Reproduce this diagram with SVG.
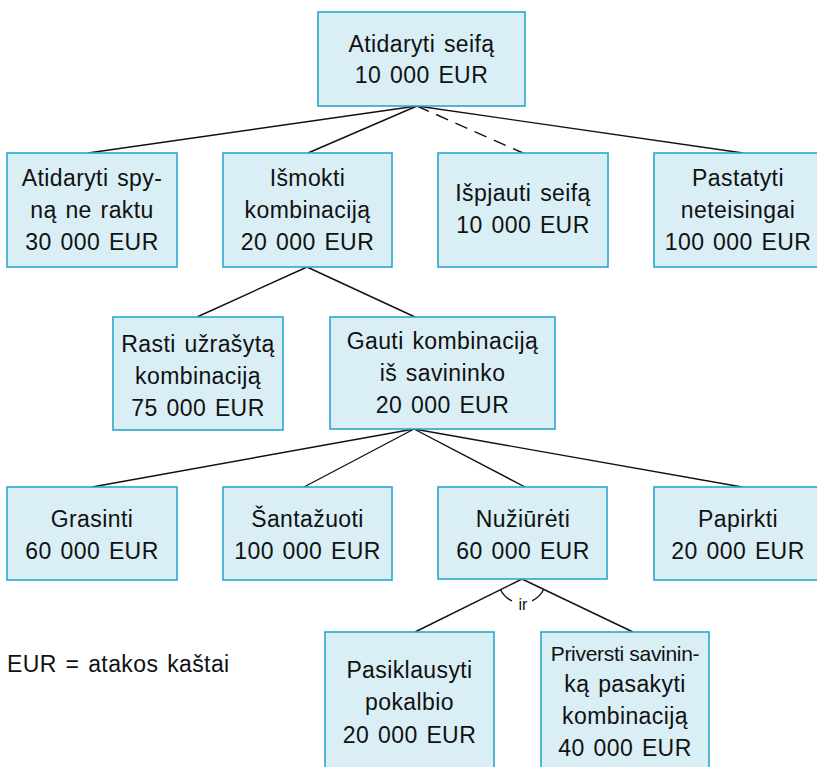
<svg xmlns="http://www.w3.org/2000/svg" width="817" height="767" viewBox="0 0 817 767">
  <style>
    .box { fill: #d9eef5; stroke: #2aa8d0; stroke-width: 1.6; }
    .lbl { font-family: "Liberation Sans", Arial, sans-serif; font-size: 23px; letter-spacing: 0.4px; word-spacing: 2px; fill: #111; text-anchor: middle; }
    .small { font-size: 21px; letter-spacing: -0.3px; word-spacing: 0; }
    .edge { stroke: #111; stroke-width: 1.4; fill: none; }
    .dash { stroke-dasharray: 13 8; }
    .legend { font-family: "Liberation Sans", Arial, sans-serif; font-size: 23px; letter-spacing: 0.4px; word-spacing: 2px; fill: #111; }
    .ir { font-family: "Liberation Sans", Arial, sans-serif; font-size: 16px; fill: #111; text-anchor: middle; }
  </style>
  <rect width="817" height="767" fill="#ffffff"/>

  <!-- connectors -->
  <g id="connectors">
    <line class="edge" x1="417" y1="106" x2="88" y2="153"/>
    <line class="edge" x1="417" y1="106" x2="308" y2="153"/>
    <line class="edge dash" x1="417" y1="106" x2="523" y2="153"/>
    <line class="edge" x1="417" y1="106" x2="743" y2="153"/>

    <line class="edge" x1="307" y1="267" x2="197" y2="317"/>
    <line class="edge" x1="307" y1="267" x2="415" y2="317"/>

    <line class="edge" x1="414" y1="429" x2="92" y2="487"/>
    <line class="edge" x1="414" y1="429" x2="304" y2="487"/>
    <line class="edge" x1="414" y1="429" x2="525" y2="487"/>
    <line class="edge" x1="414" y1="429" x2="742" y2="487"/>

    <line class="edge" x1="522" y1="579" x2="415" y2="632"/>
    <line class="edge" x1="522" y1="579" x2="633" y2="632"/>
    <!-- AND arc with a gap for its label -->
    <path class="edge" d="M 500.4 589.5 A 24 24 0 0 0 511.9 600.8"/>
    <path class="edge" d="M 532.1 600.8 A 24 24 0 0 0 543.7 589.3"/>
    <text class="ir" x="523" y="610">ir</text>
  </g>

  <g id="n-root">
    <rect class="box" x="318" y="12" width="207" height="94"/>
    <text class="lbl" x="421.5" y="52">Atidaryti seifą</text>
    <text class="lbl" x="421.5" y="83">10 000 EUR</text>
  </g>

  <g id="n-spyna">
    <rect class="box" x="7" y="153" width="170" height="114"/>
    <text class="lbl" x="92" y="186">Atidaryti spy-</text>
    <text class="lbl" x="92" y="218">ną ne raktu</text>
    <text class="lbl" x="92" y="250">30 000 EUR</text>
  </g>

  <g id="n-ismokti">
    <rect class="box" x="223" y="153" width="169" height="114"/>
    <text class="lbl" x="307.5" y="186">Išmokti</text>
    <text class="lbl" x="307.5" y="218">kombinaciją</text>
    <text class="lbl" x="307.5" y="250">20 000 EUR</text>
  </g>

  <g id="n-ispjauti">
    <rect class="box" x="438" y="153" width="170" height="114"/>
    <text class="lbl" x="523" y="201">Išpjauti seifą</text>
    <text class="lbl" x="523" y="233">10 000 EUR</text>
  </g>

  <g id="n-pastatyti">
    <rect class="box" x="654" y="153" width="168" height="114"/>
    <text class="lbl" x="738" y="186">Pastatyti</text>
    <text class="lbl" x="738" y="218">neteisingai</text>
    <text class="lbl" x="738" y="250">100 000 EUR</text>
  </g>

  <g id="n-rasti">
    <rect class="box" x="113" y="317" width="170" height="113"/>
    <text class="lbl" x="198" y="352">Rasti užrašytą</text>
    <text class="lbl" x="198" y="384">kombinaciją</text>
    <text class="lbl" x="198" y="416">75 000 EUR</text>
  </g>

  <g id="n-gauti">
    <rect class="box" x="330" y="317" width="225" height="112"/>
    <text class="lbl" x="442.5" y="349">Gauti kombinaciją</text>
    <text class="lbl" x="442.5" y="381">iš savininko</text>
    <text class="lbl" x="442.5" y="413">20 000 EUR</text>
  </g>

  <g id="n-grasinti">
    <rect class="box" x="7" y="487" width="170" height="93"/>
    <text class="lbl" x="92" y="527">Grasinti</text>
    <text class="lbl" x="92" y="559">60 000 EUR</text>
  </g>

  <g id="n-santazuoti">
    <rect class="box" x="223" y="487" width="169" height="93"/>
    <text class="lbl" x="307.5" y="527">Šantažuoti</text>
    <text class="lbl" x="307.5" y="559">100 000 EUR</text>
  </g>

  <g id="n-nuziureti">
    <rect class="box" x="438" y="487" width="169" height="92"/>
    <text class="lbl" x="523" y="527">Nužiūrėti</text>
    <text class="lbl" x="523" y="559">60 000 EUR</text>
  </g>

  <g id="n-papirkti">
    <rect class="box" x="654" y="487" width="168" height="93"/>
    <text class="lbl" x="738" y="527">Papirkti</text>
    <text class="lbl" x="738" y="559">20 000 EUR</text>
  </g>

  <g id="n-pasiklausyti">
    <rect class="box" x="325" y="632" width="169" height="140"/>
    <text class="lbl" x="409.5" y="678">Pasiklausyti</text>
    <text class="lbl" x="409.5" y="710">pokalbio</text>
    <text class="lbl" x="409.5" y="743">20 000 EUR</text>
  </g>

  <g id="n-priversti">
    <rect class="box" x="541" y="632" width="168" height="140"/>
    <text class="lbl small" x="625" y="661">Priversti savinin-</text>
    <text class="lbl" x="625" y="692">ką pasakyti</text>
    <text class="lbl" x="625" y="724">kombinaciją</text>
    <text class="lbl" x="625" y="756">40 000 EUR</text>
  </g>

  <text class="legend" x="7" y="672">EUR = atakos kaštai</text>
</svg>
